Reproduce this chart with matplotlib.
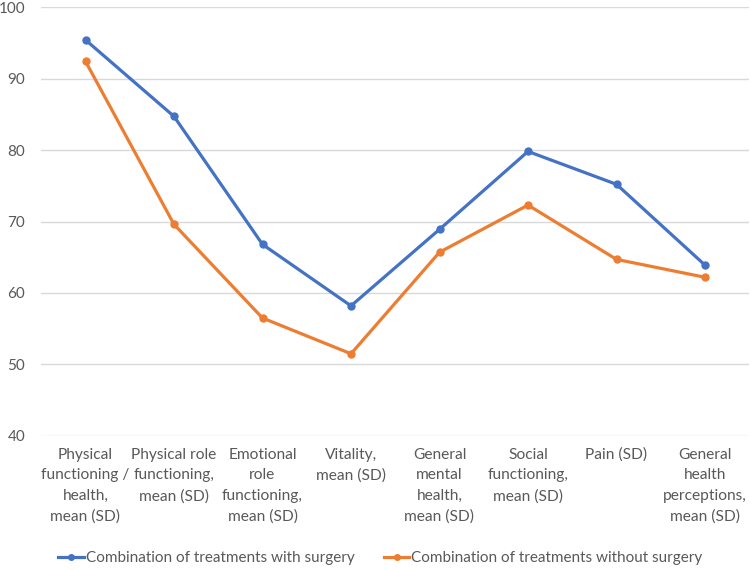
import matplotlib.pyplot as plt

categories = [
    "Physical\nfunctioning /\nhealth,\nmean (SD)",
    "Physical role\nfunctioning,\nmean (SD)",
    "Emotional\nrole\nfunctioning,\nmean (SD)",
    "Vitality,\nmean (SD)",
    "General\nmental\nhealth,\nmean (SD)",
    "Social\nfunctioning,\nmean (SD)",
    "Pain (SD)",
    "General\nhealth\nperceptions,\nmean (SD)",
]
with_surgery = [95.4, 84.7, 66.8, 58.2, 68.9, 79.8, 75.2, 63.9]
without_surgery = [92.4, 69.6, 56.5, 51.5, 65.7, 72.3, 64.7, 62.2]
yticks = [40, 50, 60, 70, 80, 90, 100]

plt.rcParams['font.family'] = ['Lato', 'DejaVu Sans']
text_color = '#595959'

fig = plt.figure(figsize=(7.5, 5.7), dpi=100)
ax = fig.add_axes([0.055, 0.2351, 0.944, 0.7526])

x = list(range(len(categories)))
ax.plot(x, with_surgery, color='#4472C4', lw=2.3, marker='o', ms=5,
        label='Combination of treatments with surgery', zorder=3)
ax.plot(x, without_surgery, color='#ED7D31', lw=2.3, marker='o', ms=5,
        label='Combination of treatments without surgery', zorder=3)

ax.set_xlim(-0.5, len(categories) - 0.5)
ax.set_ylim(40, 100)
ax.set_yticks(yticks)
ax.set_xticks(x)
ax.set_xticklabels(categories, fontsize=11.2, color=text_color, linespacing=1.6,
                   va='top')
ax.tick_params(axis='y', labelsize=11, labelcolor=text_color, length=0, pad=11.5)
ax.tick_params(axis='x', length=0, pad=8.5)
ax.grid(axis='y', color='#D9D9D9', lw=1)
ax.set_axisbelow(True)
for s in ax.spines.values():
    s.set_visible(False)

fig.legend(loc='center', bbox_to_anchor=(0.507, 0.021), ncol=2, frameon=False,
           fontsize=11, labelcolor=text_color, handlelength=1.7,
           handletextpad=0.1, columnspacing=1.9, markerscale=0.8)

fig.savefig('out.png', dpi=100)
